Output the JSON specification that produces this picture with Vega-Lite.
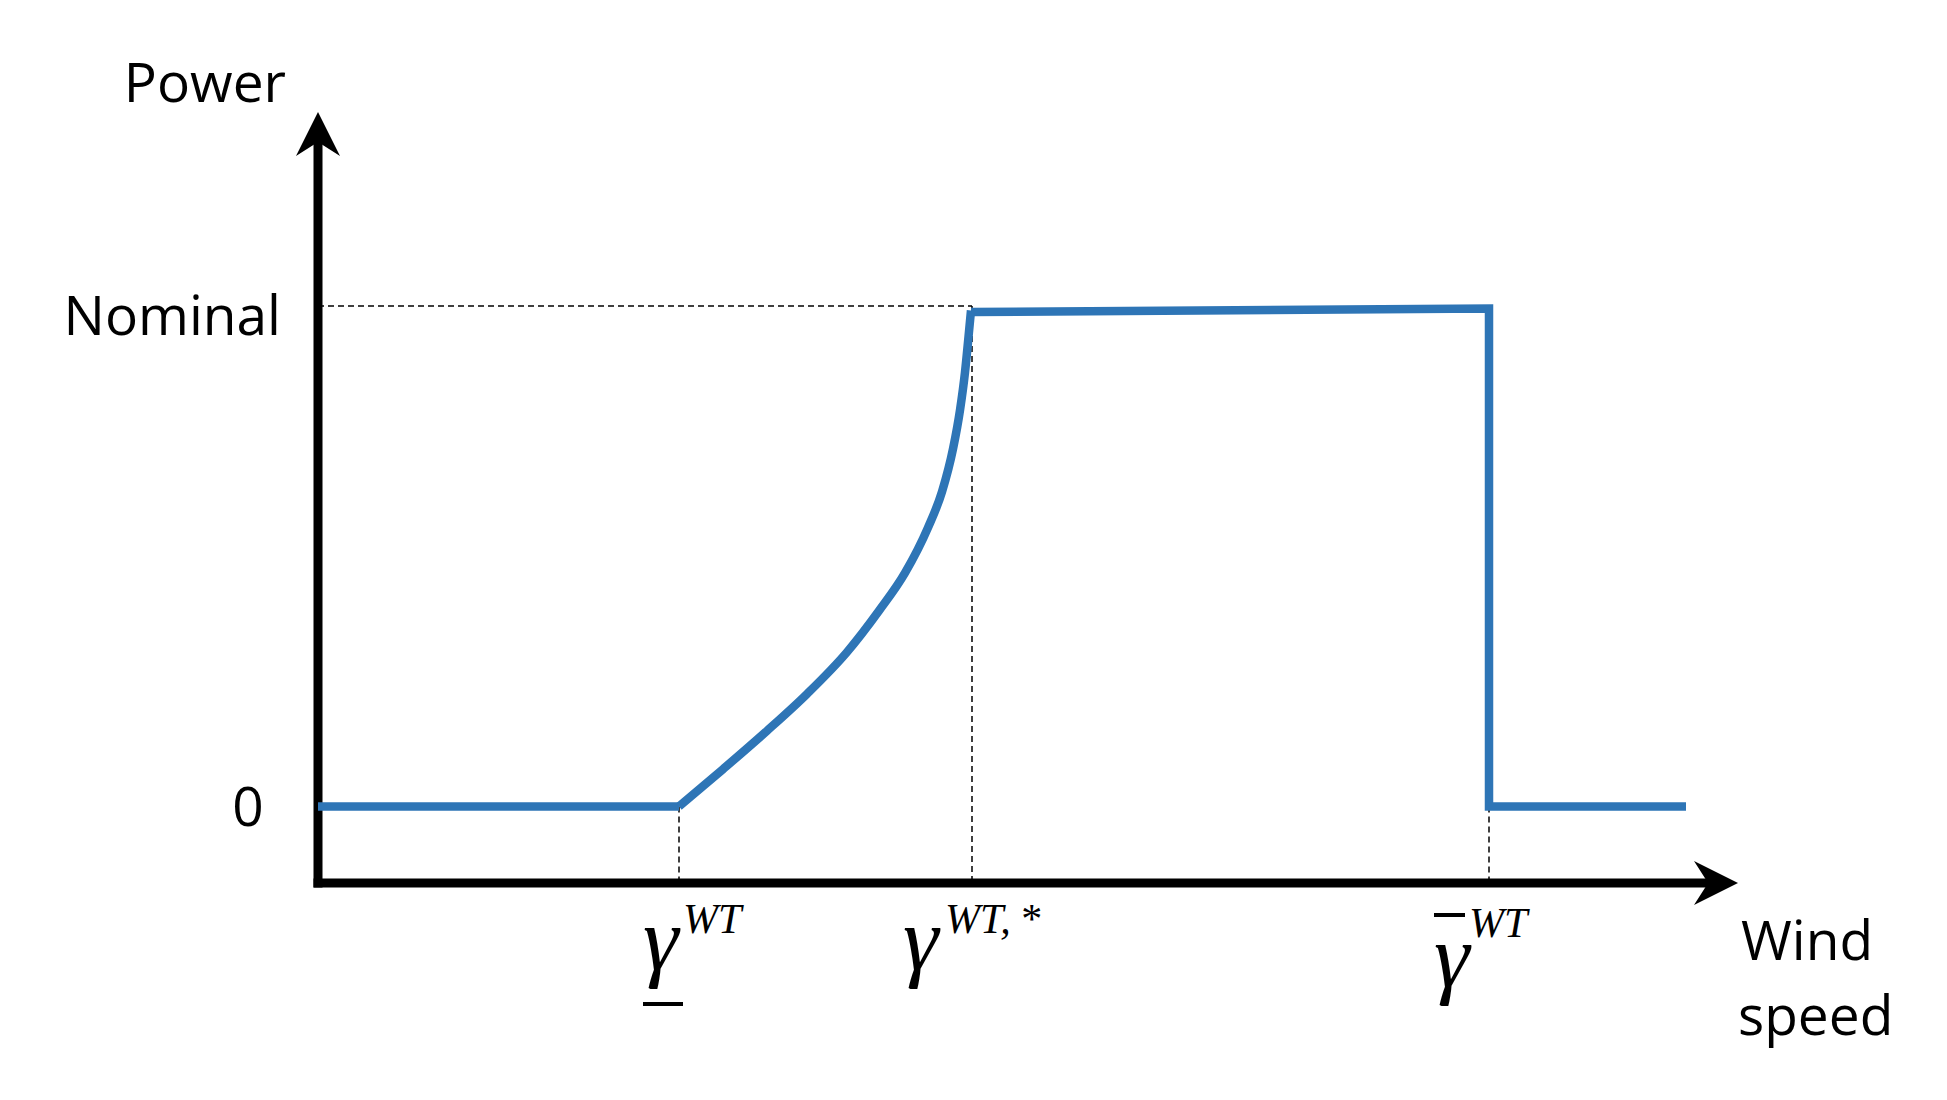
{
  "$schema": "https://vega.github.io/schema/vega-lite/v6.json",
  "width": 1420,
  "height": 771,
  "autosize": {"type": "none"},
  "padding": {"left": 318, "top": 112, "right": 209, "bottom": 217},
  "background": "white",
  "config": {"view": {"stroke": null}},
  "datasets": {
    "power": [
      {"seg": "A", "i": 1, "speed": 0, "power": 0},
      {"seg": "A", "i": 2, "speed": 3.61, "power": 0},
      {"seg": "B", "i": 1, "speed": 6.53, "power": 0.993},
      {"seg": "B", "i": 2, "speed": 11.71, "power": 1.0},
      {"seg": "B", "i": 3, "speed": 11.71, "power": 0},
      {"seg": "B", "i": 4, "speed": 13.68, "power": 0}
    ],
    "curve": [
      {"speed": 3.61, "power": 0},
      {"speed": 4.05, "power": 0.075},
      {"speed": 4.49, "power": 0.152},
      {"speed": 4.89, "power": 0.226},
      {"speed": 5.29, "power": 0.31},
      {"speed": 5.61, "power": 0.393},
      {"speed": 5.87, "power": 0.469},
      {"speed": 6.1, "power": 0.56},
      {"speed": 6.24, "power": 0.632},
      {"speed": 6.35, "power": 0.718},
      {"speed": 6.42, "power": 0.796},
      {"speed": 6.47, "power": 0.872},
      {"speed": 6.505, "power": 0.943},
      {"speed": 6.53, "power": 0.996}
    ],
    "guides": [
      {"x1": 0, "y1": 1.005, "x2": 6.54, "y2": 1.005},
      {"x1": 3.61, "y1": 0, "x2": 3.61, "y2": -0.1536},
      {"x1": 6.54, "y1": 1.005, "x2": 6.54, "y2": -0.1536},
      {"x1": 11.71, "y1": 0, "x2": 11.71, "y2": -0.1536}
    ],
    "axes": [
      {"x1": 0, "y1": -0.1536, "x2": 0, "y2": 1.334},
      {"x1": 0, "y1": -0.1536, "x2": 13.9, "y2": -0.1536}
    ],
    "bars": [
      {"x1": 3.25, "y1": -0.3966, "x2": 3.65, "y2": -0.3966},
      {"x1": 11.16, "y1": -0.2179, "x2": 11.47, "y2": -0.2179}
    ],
    "upTip": [{"x": 0, "y": 1.3946}],
    "rightTip": [{"x": 14.2, "y": -0.1536}],
    "labelsRight": [
      {"label": "Power", "x": -0.32, "y": 1.4147},
      {"label": "Nominal", "x": -0.37, "y": 0.9468}
    ],
    "labelsCenter": [
      {"label": "0", "x": -0.7, "y": -0.0392}
    ],
    "labelsLeft": [
      {"label": "Wind", "x": 14.23, "y": -0.3082},
      {"label": "speed", "x": 14.2, "y": -0.4588}
    ],
    "gammas": [
      {"label": "γ", "x": 3.25, "y": -0.3283},
      {"label": "γ", "x": 5.85, "y": -0.3283},
      {"label": "γ", "x": 11.16, "y": -0.3624}
    ],
    "supers": [
      {"label": "WT", "x": 3.65, "y": -0.254},
      {"label": "WT,\u2009*", "x": 6.27, "y": -0.254},
      {"label": "WT", "x": 11.51, "y": -0.262}
    ]
  },
  "layer": [
    {
      "data": {"name": "guides"},
      "mark": {"type": "rule", "color": "black", "strokeWidth": 1.5, "strokeDash": [6, 4]},
      "encoding": {
        "x": {"field": "x1", "type": "quantitative", "scale": {"domain": [0, 14.2], "nice": false, "zero": false}, "axis": null},
        "y": {"field": "y1", "type": "quantitative", "scale": {"domain": [-0.1536, 1.3946], "nice": false, "zero": false}, "axis": null},
        "x2": {"field": "x2"},
        "y2": {"field": "y2"}
      }
    },
    {
      "data": {"name": "axes"},
      "mark": {"type": "rule", "color": "black", "strokeWidth": 9, "strokeCap": "square"},
      "encoding": {
        "x": {"field": "x1", "type": "quantitative"},
        "y": {"field": "y1", "type": "quantitative"},
        "x2": {"field": "x2"},
        "y2": {"field": "y2"}
      }
    },
    {
      "data": {"name": "power"},
      "mark": {"type": "line", "color": "#2E75B6", "strokeWidth": 8.5, "strokeCap": "butt", "strokeJoin": "miter", "interpolate": "linear"},
      "encoding": {
        "x": {"field": "speed", "type": "quantitative"},
        "y": {"field": "power", "type": "quantitative"},
        "detail": {"field": "seg"},
        "order": {"field": "i"}
      }
    },
    {
      "data": {"name": "curve"},
      "mark": {"type": "line", "color": "#2E75B6", "strokeWidth": 8.5, "strokeCap": "butt", "interpolate": "monotone"},
      "encoding": {
        "x": {"field": "speed", "type": "quantitative"},
        "y": {"field": "power", "type": "quantitative"}
      }
    },
    {
      "data": {"name": "upTip"},
      "mark": {"type": "point", "shape": "M0,0L1,2L0,1.36L-1,2Z", "size": 1936, "filled": true, "color": "black", "opacity": 1, "strokeWidth": 0},
      "encoding": {
        "x": {"field": "x", "type": "quantitative"},
        "y": {"field": "y", "type": "quantitative"}
      }
    },
    {
      "data": {"name": "rightTip"},
      "mark": {"type": "point", "shape": "M0,0L-2,-1L-1.36,0L-2,1Z", "size": 1936, "filled": true, "color": "black", "opacity": 1, "strokeWidth": 0},
      "encoding": {
        "x": {"field": "x", "type": "quantitative"},
        "y": {"field": "y", "type": "quantitative"}
      }
    },
    {
      "data": {"name": "bars"},
      "mark": {"type": "rule", "color": "black", "strokeWidth": 4},
      "encoding": {
        "x": {"field": "x1", "type": "quantitative"},
        "y": {"field": "y1", "type": "quantitative"},
        "x2": {"field": "x2"},
        "y2": {"field": "y2"}
      }
    },
    {
      "data": {"name": "labelsRight"},
      "mark": {"type": "text", "font": "Open Sans", "fontSize": 55, "align": "right", "baseline": "alphabetic", "color": "black"},
      "encoding": {
        "x": {"field": "x", "type": "quantitative"},
        "y": {"field": "y", "type": "quantitative"},
        "text": {"field": "label"}
      }
    },
    {
      "data": {"name": "labelsCenter"},
      "mark": {"type": "text", "font": "Open Sans", "fontSize": 55, "align": "center", "baseline": "alphabetic", "color": "black"},
      "encoding": {
        "x": {"field": "x", "type": "quantitative"},
        "y": {"field": "y", "type": "quantitative"},
        "text": {"field": "label"}
      }
    },
    {
      "data": {"name": "labelsLeft"},
      "mark": {"type": "text", "font": "Open Sans", "fontSize": 55, "align": "left", "baseline": "alphabetic", "color": "black"},
      "encoding": {
        "x": {"field": "x", "type": "quantitative"},
        "y": {"field": "y", "type": "quantitative"},
        "text": {"field": "label"}
      }
    },
    {
      "data": {"name": "gammas"},
      "mark": {"type": "text", "font": "Liberation Serif", "fontStyle": "italic", "fontSize": 90, "align": "left", "baseline": "alphabetic", "color": "black"},
      "encoding": {
        "x": {"field": "x", "type": "quantitative"},
        "y": {"field": "y", "type": "quantitative"},
        "text": {"field": "label"}
      }
    },
    {
      "data": {"name": "supers"},
      "mark": {"type": "text", "font": "Liberation Serif", "fontStyle": "italic", "fontSize": 42, "align": "left", "baseline": "alphabetic", "color": "black"},
      "encoding": {
        "x": {"field": "x", "type": "quantitative"},
        "y": {"field": "y", "type": "quantitative"},
        "text": {"field": "label"}
      }
    }
  ]
}
